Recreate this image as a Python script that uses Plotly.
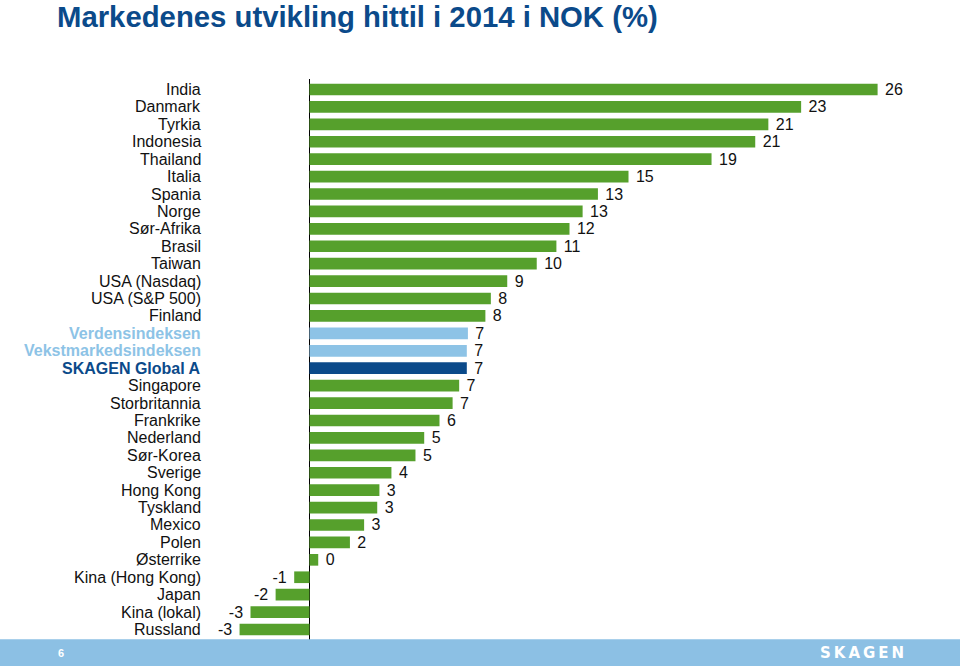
import plotly.graph_objects as go

# ---- data ----
categories = [
    "India", "Danmark", "Tyrkia", "Indonesia", "Thailand", "Italia", "Spania",
    "Norge", "Sør-Afrika", "Brasil", "Taiwan", "USA (Nasdaq)", "USA (S&P 500)",
    "Finland", "Verdensindeksen", "Vekstmarkedsindeksen", "SKAGEN Global A",
    "Singapore", "Storbritannia", "Frankrike", "Nederland", "Sør-Korea",
    "Sverige", "Hong Kong", "Tyskland", "Mexico", "Polen", "Østerrike",
    "Kina (Hong Kong)", "Japan", "Kina (lokal)", "Russland",
]
# bar lengths (%)
values = [
    26.0, 22.5, 21.0, 20.4, 18.4, 14.6, 13.2,
    12.5, 11.9, 11.3, 10.4, 9.05, 8.3,
    8.05, 7.25, 7.2, 7.2,
    6.85, 6.55, 5.95, 5.25, 4.85,
    3.75, 3.2, 3.1, 2.5, 1.85, 0.4,
    -0.7, -1.55, -2.7, -3.2,
]
# printed value labels
value_labels = [
    26, 23, 21, 21, 19, 15, 13,
    13, 12, 11, 10, 9, 8,
    8, 7, 7, 7,
    7, 7, 6, 5, 5,
    4, 3, 3, 3, 2, 0,
    -1, -2, -3, -3,
]
# series kind per category: "market", "index", "fund"
kinds = ["market"] * 14 + ["index", "index", "fund"] + ["market"] * 15

# ---- styles ----
GREEN = "#56A02C"
LIGHT_BLUE = "#8DC3E6"
DARK_BLUE = "#0B4A8A"
bar_colors = {"market": GREEN, "index": LIGHT_BLUE, "fund": DARK_BLUE}
label_colors = {"market": "#111111", "index": LIGHT_BLUE, "fund": DARK_BLUE}
FONT = "Liberation Sans, Arial, sans-serif"

texts = [f" {v}" if v >= 0 else f"{v} " for v in value_labels]

fig = go.Figure(
    go.Bar(
        x=values,
        y=categories,
        orientation="h",
        marker=dict(color=[bar_colors[k] for k in kinds], line=dict(width=0)),
        width=0.67,
        text=texts,
        textposition="outside",
        textfont=dict(family=FONT, size=16, color="#111111"),
        constraintext="none",
        cliponaxis=False,
        hoverinfo="skip",
    )
)

# category labels
for cat, k in zip(categories, kinds):
    bold = k != "market"
    fig.add_annotation(
        x=-0.038, xref="paper", y=cat, yref="y",
        text=f"<b>{cat}</b>" if bold else cat,
        showarrow=False, xanchor="right", yanchor="middle",
        font=dict(family=FONT, size=16, color=label_colors[k]),
    )

# footer band
fig.add_shape(
    type="rect", xref="paper", yref="paper",
    x0=-0.33, x1=1.05, y0=-0.047, y1=0.0012,
    fillcolor="#8CC0E4", line=dict(width=0), layer="above",
)
fig.add_annotation(
    x=-0.242, xref="paper", y=-0.0235, yref="paper", text="<b>6</b>",
    showarrow=False, xanchor="center", yanchor="middle",
    font=dict(family=FONT, size=11, color="white"),
)
fig.add_annotation(
    x=0.966, xref="paper", y=-0.0235, yref="paper",
    text="<b>S\u2009K\u2009A\u2009G\u2009E\u2009N</b>",
    showarrow=False, xanchor="right", yanchor="middle",
    font=dict(family="DejaVu Sans, sans-serif", size=15, color="white"),
)

fig.update_layout(
    width=960, height=666,
    margin=dict(l=230, r=30, t=79, b=26),
    paper_bgcolor="white", plot_bgcolor="white",
    showlegend=False,
    title=dict(
        text="<b>Markedenes utvikling hittil i 2014 i NOK (%)</b>",
        x=57 / 960, xanchor="left", xref="container",
        y=1 - 17 / 666, yanchor="middle", yref="container",
        font=dict(family=FONT, size=29.3, color=DARK_BLUE),
    ),
    xaxis=dict(
        range=[-3.638, 28.398], showgrid=False, showticklabels=False,
        zeroline=True, zerolinecolor="#000000", zerolinewidth=1,
        showline=False, ticks="", fixedrange=True,
    ),
    yaxis=dict(
        categoryorder="array", categoryarray=categories,
        autorange="reversed", showticklabels=False, showgrid=False,
        zeroline=False, showline=False, ticks="", fixedrange=True,
    ),
    bargap=0.33,
)

fig.write_html(
    "out.html",
    config={"displayModeBar": False},
    post_script="document.body.style.margin='0';document.body.style.overflow='hidden';",
)
